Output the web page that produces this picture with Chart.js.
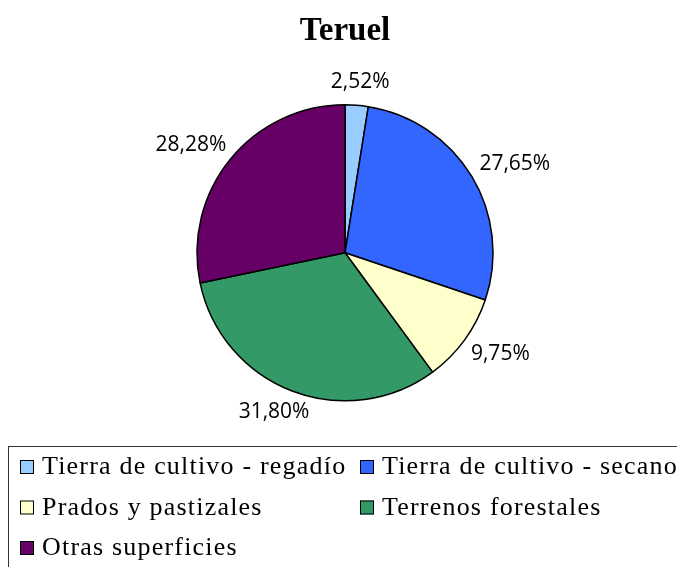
<!DOCTYPE html>
<html>
<head>
<meta charset="utf-8">
<script src="https://cdn.jsdelivr.net/npm/chart.js@4.4.1/dist/chart.umd.min.js"></script>
<style>
  html, body { margin: 0; padding: 0; background: #fff; }
  #wrap { width: 677px; height: 567px; }
</style>
</head>
<body>
<div id="wrap"><canvas id="pieChart"></canvas></div>
<script>
const chartTitle = 'Teruel';
const categories = ['Tierra de cultivo - regadío', 'Tierra de cultivo - secano', 'Prados y pastizales', 'Terrenos forestales', 'Otras superficies'];
const shares = [2.52, 27.65, 9.75, 31.80, 28.28];
const sliceColors = ['#99CCFF', '#3366FF', '#FFFFCC', '#339966', '#660066'];

// "2,52%" style, comma as decimal mark
function fmtPct(v) {
    return v.toFixed(2).replace('.', ',') + '%';
}

// percentage labels just outside each slice
const outsideLabels = {
    id: 'outsideLabels',
    afterDatasetsDraw(chart) {
        const ctx = chart.ctx;
        const arcs = chart.getDatasetMeta(0).data;
        ctx.save();
        ctx.font = '21px "Open Sans"';
        ctx.fillStyle = '#000';
        ctx.textAlign = 'center';
        ctx.textBaseline = 'middle';
        arcs.forEach((arc, i) => {
            const p = arc.getProps(['x', 'y', 'startAngle', 'endAngle', 'outerRadius'], true);
            const mid = (p.startAngle + p.endAngle) / 2;
            const txt = fmtPct(shares[i]);
            const hw = ctx.measureText(txt).width / 2;
            const cos = Math.cos(mid), sin = Math.sin(mid);
            const r = p.outerRadius + 15;
            ctx.fillText(txt, p.x + r * cos + hw * cos, p.y + r * sin + 8 * sin);
        });
        ctx.restore();
    }
};

// boxed legend in two columns under the pie
const boxLegend = {
    id: 'boxLegend',
    afterDraw(chart) {
        const ctx = chart.ctx;
        ctx.save();
        ctx.strokeStyle = '#333';
        ctx.lineWidth = 1;
        ctx.strokeRect(8.5, 446.5, 700, 140);
        ctx.font = '26px "Liberation Serif"';
        ctx.letterSpacing = '1.2px';
        ctx.textAlign = 'left';
        ctx.textBaseline = 'alphabetic';
        categories.forEach((name, i) => {
            const x = 20 + (i % 2) * 340;
            const y = 467 + Math.floor(i / 2) * 40.5;
            ctx.fillStyle = sliceColors[i];
            ctx.fillRect(x, y - 7, 14, 14);
            ctx.strokeStyle = '#000';
            ctx.strokeRect(x + 0.5, y - 6.5, 13, 13);
            ctx.fillStyle = '#000';
            ctx.fillText(name, x + 22, y + 7);
        });
        ctx.restore();
    }
};

const ctx = document.getElementById('pieChart').getContext('2d');
new Chart(ctx, {
    type: 'pie',
    data: {
        labels: categories,
        datasets: [{
            data: shares,
            backgroundColor: sliceColors,
            borderColor: '#000',
            borderWidth: 1.5
        }]
    },
    options: {
        responsive: true,
        maintainAspectRatio: false,
        animation: false,
        radius: 148,
        layout: {
            padding: { top: 6, bottom: 123, left: 13, right: 0 }
        },
        plugins: {
            legend: { display: false },
            tooltip: { enabled: false },
            title: {
                display: true,
                text: chartTitle,
                color: '#000',
                font: { family: '"Liberation Serif"', size: 33, weight: 'bold' },
                padding: { top: 6, bottom: 10 }
            }
        }
    },
    plugins: [outsideLabels, boxLegend]
});
</script>
</body>
</html>
